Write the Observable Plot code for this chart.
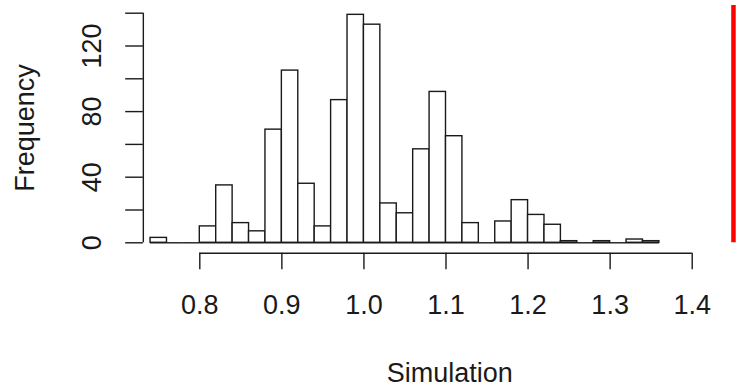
<!DOCTYPE html>
<html>
<head>
<meta charset="utf-8">
<script src="https://cdn.jsdelivr.net/npm/d3@7"></script>
<script src="https://cdn.jsdelivr.net/npm/@observablehq/plot@0.6"></script>
<style>
  html, body { margin: 0; padding: 0; background: #fff; }
  #chart svg { display: block; }
</style>
</head>
<body>
<div id="chart"></div>
<script>
// Histogram bins (left edges, width 0.02) and counts
const binLeft = [0.74, 0.76, 0.78, 0.80, 0.82, 0.84, 0.86, 0.88, 0.90, 0.92,
                 0.94, 0.96, 0.98, 1.00, 1.02, 1.04, 1.06, 1.08, 1.10, 1.12,
                 1.14, 1.16, 1.18, 1.20, 1.22, 1.24, 1.26, 1.28, 1.30, 1.32, 1.34];
const binWidth = 0.02;
const counts  = [3, 0, 0, 10, 35, 12, 7, 69, 105, 36,
                 10, 87, 139, 133, 24, 18, 57, 92, 65, 12,
                 0, 13, 26, 17, 11, 1, 0, 1, 0, 2, 1];
const xTicks = [0.8, 0.9, 1.0, 1.1, 1.2, 1.3, 1.4];
const xTickLabels = ["0.8", "0.9", "1.0", "1.1", "1.2", "1.3", "1.4"];
const yTicks = [0, 20, 40, 60, 80, 100, 120, 140];
const yTickLabels = [0, 40, 80, 120];
const xTitle = "Simulation";
const yTitle = "Frequency";
const refLine = 1.4503; // red vertical reference line
const refTop = 144.7;

const bins = binLeft.map((b, i) => ({x1: b, x2: b + binWidth, count: counts[i]}));

const font = "'Liberation Sans', Arial, sans-serif";
const ink = "#1a1a1a";
const fs = 27;

const chart = Plot.plot({
  width: 736,
  height: 392,
  marginTop: 0, marginRight: 0, marginBottom: 0, marginLeft: 0,
  style: {fontFamily: font, background: "#fff"},
  x: {domain: [0.8, 1.4], range: [199.3, 691.7], axis: null},
  y: {domain: [0, 140], range: [242.3, 12.7], axis: null},
  marks: [
    // histogram bars
    Plot.rectY(bins, {x1: "x1", x2: "x2", y1: 0, y2: "count", fill: "white", stroke: ink, strokeWidth: 1.4}),
    // bottom edge of every bin (empty bins show as a flat line)
    Plot.ruleY(bins, {x1: "x1", x2: "x2", y: 0, stroke: ink, strokeWidth: 1.4}),
    // y axis line and ticks
    Plot.ruleX([0.7312], {y1: 0, y2: 140, stroke: ink, strokeWidth: 1.4}),
    Plot.ruleY(yTicks, {x1: 0.7097, x2: 0.7312, stroke: ink, strokeWidth: 1.4}),
    Plot.text(yTickLabels, {x: 0.6696, y: d => d, text: d => String(d), rotate: -90,
      fontSize: fs, fill: ink, textAnchor: "middle", lineAnchor: "middle"}),
    // x axis line and ticks
    Plot.ruleY([-6.34], {x1: 0.8, x2: 1.4, stroke: ink, strokeWidth: 1.4}),
    Plot.ruleX(xTicks, {y1: -6.34, y2: -16.5, stroke: ink, strokeWidth: 1.4}),
    Plot.text(xTicks, {x: d => d, y: -37.9, text: (d, i) => xTickLabels[i],
      fontSize: fs, fill: ink, textAnchor: "middle", lineAnchor: "middle"}),
    // axis titles
    Plot.text([xTitle], {x: 1.1046, y: -79.8, text: d => d, fontSize: fs, fill: ink,
      textAnchor: "middle", lineAnchor: "middle"}),
    Plot.text([yTitle], {x: 0.5875, y: 70, text: d => d, rotate: -90, fontSize: fs, fill: ink,
      textAnchor: "middle", lineAnchor: "middle"}),
    // red reference line
    Plot.ruleX([refLine], {y1: 0, y2: refTop, stroke: "#ff0000", strokeWidth: 4.5})
  ]
});
document.getElementById("chart").appendChild(chart);
</script>
</body>
</html>
